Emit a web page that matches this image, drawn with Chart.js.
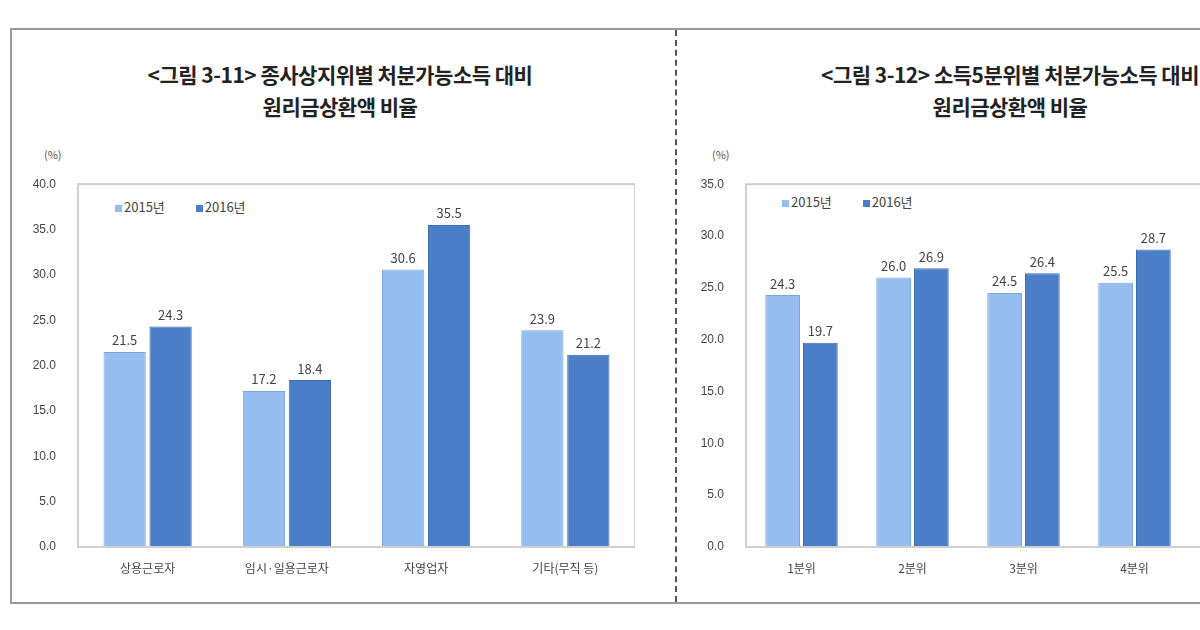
<!DOCTYPE html>
<html>
<head>
<meta charset="utf-8">
<script src="https://cdn.jsdelivr.net/npm/chart.js@4"></script>
<style>
  body { margin: 0; background: #fff; font-family: "Noto Sans CJK KR", sans-serif; }
  #wrap { position: relative; width: 1200px; height: 630px; overflow: hidden; }
  .frame { position: absolute; left: 10px; top: 28px; width: 1300px; height: 572px; border: 2px solid #9a9a9a; }
  .dash { position: absolute; left: 675px; top: 30px; height: 572px; border-left: 2px dashed #555; }
  .title { position: absolute; font-size: 21px; font-weight: bold; color: #222; text-align: center; line-height: 32px; letter-spacing: -0.5px; }
  .unit { position: absolute; font-size: 11px; color: #555; }
  .legend { position: absolute; font-size: 13px; color: #444; }
  .legend span.box { display: inline-block; width: 7px; height: 7px; margin-right: 2px; }
  canvas { position: absolute; }
</style>
</head>
<body>
<div id="wrap">
  <div class="frame"></div>
  <div class="dash"></div>
  <div class="title" style="left:40px; top:58px; width:600px;">&lt;그림 3-11&gt; 종사상지위별 처분가능소득 대비<br>원리금상환액 비율</div>
  <div class="title" style="left:710px; top:58px; width:600px;">&lt;그림 3-12&gt; 소득5분위별 처분가능소득 대비<br>원리금상환액 비율</div>
  <div class="unit" style="left:44px; top:146px;">(%)</div>
  <div class="unit" style="left:712px; top:146px;">(%)</div>
  <div class="legend" style="left:115px; top:197px;"><span class="box" style="background:#95bdf0"></span>2015년 <span style="display:inline-block;width:28px"></span><span class="box" style="background:#4a7fc8"></span>2016년</div>
  <div class="legend" style="left:782px; top:192px;"><span class="box" style="background:#95bdf0"></span>2015년 <span style="display:inline-block;width:28px"></span><span class="box" style="background:#4a7fc8"></span>2016년</div>
  <canvas id="chart1" style="left:20px; top:163px;" width="615" height="424"></canvas>
  <canvas id="chart2" style="left:688px; top:163px;" width="613" height="424"></canvas>
</div>
<script>
var years = ["2015년", "2016년"];

var statusLabels = ["상용근로자", "임시·일용근로자", "자영업자", "기타(무직 등)"];
var status2015 = [21.5, 17.2, 30.6, 23.9];
var status2016 = [24.3, 18.4, 35.5, 21.2];

var quintileLabels = ["1분위", "2분위", "3분위", "4분위", "5분위"];
var quintile2015 = [24.3, 26.0, 24.5, 25.5, 22.0];
var quintile2016 = [19.7, 26.9, 26.4, 28.7, 23.1];

var boxAndLabels = {
  id: 'boxAndLabels',
  afterDatasetsDraw: function(chart) {
    var ctx = chart.ctx;
    var a = chart.chartArea;
    ctx.save();
    ctx.strokeStyle = '#cfcfcf';
    ctx.lineWidth = 2;
    ctx.strokeRect(a.left, a.top, a.right - a.left, a.bottom - a.top);
    ctx.fillStyle = '#444';
    ctx.font = '13px "Noto Sans CJK KR", sans-serif';
    ctx.textAlign = 'center';
    ctx.textBaseline = 'bottom';
    chart.data.datasets.forEach(function(ds, i) {
      chart.getDatasetMeta(i).data.forEach(function(bar, j) {
        ctx.fillText(ds.data[j].toFixed(1), bar.x, bar.y - 5);
      });
    });
    ctx.restore();
  }
};

function makeChart(id, labels, d1, d2, max, catPct) {
  return new Chart(document.getElementById(id), {
    type: 'bar',
    data: {
      labels: labels,
      datasets: [
        { label: years[0], backgroundColor: "#95bdf0", borderColor: "#7aa6df", borderWidth: 1, data: d1 },
        { label: years[1], backgroundColor: "#4a7fc8", borderColor: "#3b6cb0", borderWidth: 1, data: d2 }
      ]
    },
    options: {
      responsive: false,
      animation: false,
      layout: { padding: { top: 8, right: 0 } },
      plugins: { legend: { display: false }, tooltip: { enabled: false } },
      datasets: { bar: { categoryPercentage: catPct, barPercentage: 0.92 } },
      scales: {
        x: {
          grid: { display: false },
          border: { display: false },
          ticks: { color: '#444', font: { size: 12, family: '"Noto Sans CJK KR"' }, padding: 6 },
          afterFit: function(s) { s.height = 40; }
        },
        y: {
          min: 0, max: max,
          grid: { display: false, drawTicks: true },
          border: { display: false },
          ticks: { stepSize: 5, color: '#444', font: { size: 12 }, callback: function(v) { return v.toFixed(1); }, padding: 14 },
          afterFit: function(s) { s.width = 58; }
        }
      }
    },
    plugins: [boxAndLabels]
  });
}

makeChart("chart1", statusLabels, status2015, status2016, 40, 0.66);
makeChart("chart2", quintileLabels, quintile2015, quintile2016, 35, 0.68);
</script>
</body>
</html>
